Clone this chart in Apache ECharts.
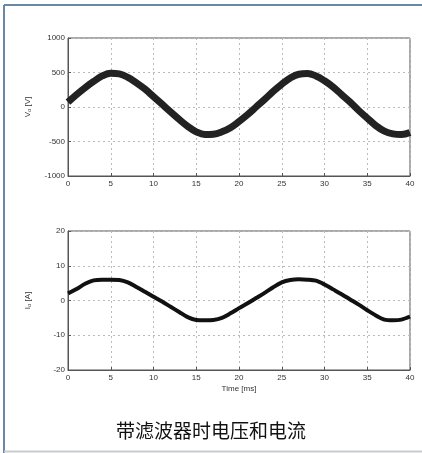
<!DOCTYPE html>
<html><head><meta charset="utf-8">
<script src="https://cdn.jsdelivr.net/npm/echarts@6/dist/echarts.min.js"></script>
<style>html,body{margin:0;padding:0;background:#fff}#c{width:422px;height:453px}</style>
</head><body><div id="c"></div>
<script>
const timeMs = [0,1,2,3,4,5,6,7,8,9,10,11,12,13,14,15,16,17,18,19,20,21,22,23,24,25,26,27,28,29,30,31,32,33,34,35,36,37,38,39,40];
const voltageV = [70,180,280,370,450,490,480,430,350,260,150,40,-70,-180,-280,-360,-400,-395,-360,-300,-210,-110,0,110,225,330,420,475,485,450,380,290,180,70,-50,-160,-270,-350,-390,-400,-370];
const currentA = [2,3.3,4.8,5.8,6.0,6.0,5.9,5.2,3.9,2.5,1.1,-0.3,-1.8,-3.3,-4.8,-5.6,-5.7,-5.6,-5.0,-3.7,-2.2,-0.8,0.7,2.2,3.8,5.2,5.9,6.1,6.0,5.7,4.6,3.2,1.8,0.3,-1.2,-2.8,-4.3,-5.5,-5.7,-5.5,-4.6];
const xTicks = [0,5,10,15,20,25,30,35,40];
const vTicks = [-1000,-500,0,500,1000];
const iTicks = [-20,-10,0,10,20];
const titleText = '带滤波器时电压和电流';
const xName = 'Time [ms]';

const chart = echarts.init(document.getElementById('c'));
const lbl = {fontSize: 8, color: '#333', fontFamily: 'Liberation Sans', formatter: v => String(v)};
function xAxis(idx, showName){
  return {type:'value', gridIndex: idx, min: xTicks[0], max: xTicks[xTicks.length-1], interval: 5,
    axisLine:{show:true, onZero:false, lineStyle:{color:'#555'}},
    axisTick:{show:true, inside:true, length:3, lineStyle:{color:'#555'}},
    axisLabel: Object.assign({margin:4}, lbl),
    splitLine:{show:true, lineStyle:{color:'#bbb', type:[2,3], width:1}},
    name: showName ? xName : '', nameLocation:'middle', nameGap: 15,
    nameTextStyle:{fontSize:8, color:'#333', fontFamily:'Liberation Sans'}};
}
function yAxis(idx, ticks, name){
  return {type:'value', gridIndex: idx, min: ticks[0], max: ticks[ticks.length-1], interval: ticks[1]-ticks[0],
    axisLine:{show:true, lineStyle:{color:'#555'}},
    axisTick:{show:true, inside:true, length:3, lineStyle:{color:'#555'}},
    axisLabel: Object.assign({margin:3}, lbl),
    splitLine:{show:true, lineStyle:{color:'#bbb', type:[2,3], width:1}},
    name: name, nameLocation:'middle', nameGap: 36, nameRotate: 90,
    nameTextStyle:{rich:{a:{fontSize:8,color:'#333',fontFamily:'Liberation Sans'}, b:{fontSize:6,color:'#333',verticalAlign:'bottom',fontFamily:'Liberation Sans'}}}};
}
const vy = yAxis(0, vTicks, '{a|V}{b|o}{a| [V]}');
const iy = yAxis(1, iTicks, '{a|I}{b|o}{a| [A]}');
chart.setOption({
  animation:false,
  backgroundColor:'#fff',
  grid:[
    {left:68, right:12, top:38, height:138, show:true, borderColor:'#555', borderWidth:1, backgroundColor:'transparent'},
    {left:68, right:12, top:231, height:139, show:true, borderColor:'#555', borderWidth:1, backgroundColor:'transparent'}
  ],
  xAxis:[xAxis(0,false), xAxis(1,true)],
  yAxis:[vy, iy],
  series:[
    {type:'line', xAxisIndex:0, yAxisIndex:0, data: timeMs.map((t,i)=>[t, voltageV[i]]), showSymbol:false, smooth:0.4,
      lineStyle:{color:'#222', width:7}},
    {type:'line', xAxisIndex:1, yAxisIndex:1, data: timeMs.map((t,i)=>[t, currentA[i]]), showSymbol:false, smooth:0.3,
      lineStyle:{color:'#111', width:4}}
  ],
  title:{text:titleText, left:'center', top:416, textStyle:{fontSize:19, fontWeight:'normal', color:'#111', fontFamily:'Noto Sans CJK SC'}},
  graphic:[
    {type:'line', shape:{x1:4, y1:5, x2:422, y2:5}, style:{stroke:'#6b87a3', lineWidth:2}},
    {type:'line', shape:{x1:4, y1:5, x2:4, y2:453}, style:{stroke:'#6b87a3', lineWidth:2}},
    {type:'line', shape:{x1:4, y1:451.5, x2:422, y2:451.5}, style:{stroke:'#c8cccf', lineWidth:2}}
  ]
});
</script></body></html>
